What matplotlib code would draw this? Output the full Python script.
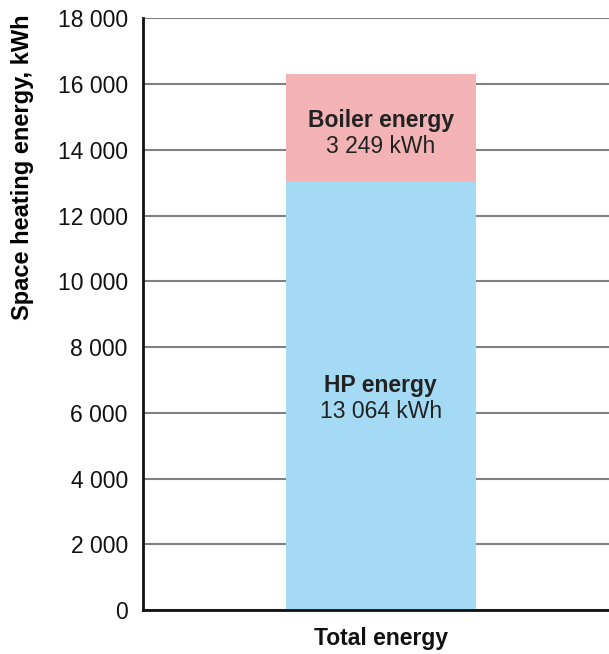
import matplotlib.pyplot as plt
from matplotlib.ticker import FuncFormatter

# data
category = ['Total energy']
hp_energy = [13064]
boiler_energy = [3249]
yticks = list(range(0, 18001, 2000))

plt.rcParams['font.family'] = ['Liberation Sans', 'DejaVu Sans']

fig = plt.figure(figsize=(6.09, 6.54), dpi=100)
ax = fig.add_axes([0.235, 0.067, 0.765, 0.905])

x = [0]
ax.bar(x, hp_energy, width=0.8, color='#a4daf3', zorder=2)
ax.bar(x, boiler_energy, width=0.8, bottom=hp_energy, color='#f3b3b4', zorder=2)

# labels inside the bar segments
for xi, hp, bo in zip(x, hp_energy, boiler_energy):
    ax.text(xi, hp / 2 + 300, 'HP energy', ha='center', va='center',
            fontsize=16.5, fontweight='bold', color='#222222', zorder=3)
    ax.text(xi, hp / 2 - 500, f'{hp:,} kWh'.replace(',', ' '), ha='center', va='center',
            fontsize=16.5, color='#222222', zorder=3)
    ax.text(xi, hp + bo / 2 + 200, 'Boiler energy', ha='center', va='center',
            fontsize=16.5, fontweight='bold', color='#222222', zorder=3)
    ax.text(xi, hp + bo / 2 - 600, f'{bo:,} kWh'.replace(',', ' '), ha='center', va='center',
            fontsize=16.5, color='#222222', zorder=3)

ax.set_ylim(0, 18000)
ax.set_xlim(-1.0, 0.96)
ax.set_yticks(yticks)
ax.yaxis.set_major_formatter(FuncFormatter(lambda v, p: f'{int(v):,}'.replace(',', ' ')))
ax.set_xticks(x)
ax.set_xticklabels(category, fontsize=16.5, fontweight='bold')
ax.tick_params(axis='both', length=0, labelsize=16.5, colors='#111111')
ax.tick_params(axis='y', pad=11)
ax.tick_params(axis='x', pad=12)

ax.grid(axis='y', color='#808080', linewidth=1.5, zorder=0)
for s in ['top', 'right']:
    ax.spines[s].set_visible(False)
for s in ['left', 'bottom']:
    ax.spines[s].set_linewidth(2)
    ax.spines[s].set_color('#111111')

ax.set_ylabel('Space heating energy, kWh', fontsize=17, fontweight='bold')
ax.yaxis.set_label_coords(-0.234, 0.748)

plt.savefig('out.png', dpi=100)
